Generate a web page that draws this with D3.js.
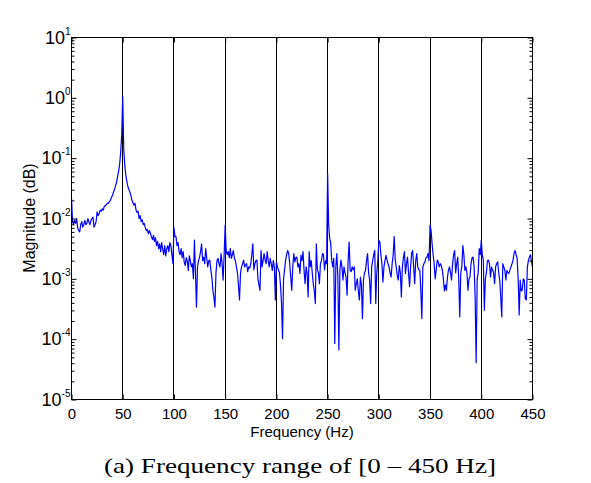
<!DOCTYPE html>
<html><head><meta charset="utf-8">
<script src="https://cdn.jsdelivr.net/npm/d3@7"></script>
<style>body{margin:0;background:#fff}svg{display:block}</style>
</head><body>
<svg id="c" width="591" height="483"></svg>
<script>
// ---- data ----
const xDomain = [0, 450];
const yDomain = [1e-5, 10];
const xTickValues = [0, 50, 100, 150, 200, 250, 300, 350, 400, 450];
const gridFreqs = [50, 100, 150, 200, 250, 300, 350, 400];
const yTickExponents = [-5, -4, -3, -2, -1, 0, 1];
const freqStepHz = 1;
const magnitude = [
2.2e-2,8.9e-3,7.9e-3,9.3e-3,8.3e-3,1.0e-2,7.1e-3,6.3e-3,6.0e-3,7.9e-3,
8.9e-3,7.2e-3,7.9e-3,9.3e-3,7.9e-3,8.3e-3,1.0e-2,8.7e-3,7.9e-3,9.3e-3,
1.0e-2,1.05e-2,7.2e-3,7.9e-3,8.9e-3,1.29e-2,1.12e-2,1.20e-2,1.38e-2,1.32e-2,
1.45e-2,1.38e-2,1.58e-2,1.62e-2,1.70e-2,1.78e-2,1.78e-2,1.91e-2,2.0e-2,2.24e-2,
2.40e-2,2.75e-2,3.02e-2,3.47e-2,3.98e-2,5.01e-2,6.03e-2,7.94e-2,0.126,0.240,
1.05,0.141,7.59e-2,5.25e-2,4.17e-2,3.39e-2,3.02e-2,2.75e-2,2.40e-2,2.0e-2,
1.82e-2,1.66e-2,1.78e-2,1.38e-2,1.26e-2,1.32e-2,1.0e-2,1.12e-2,8.9e-3,9.55e-3,
7.9e-3,8.3e-3,7.1e-3,6.3e-3,6.6e-3,5.6e-3,6.3e-3,5.75e-3,5.0e-3,4.47e-3,
5.25e-3,4.17e-3,4.79e-3,3.55e-3,4.17e-3,3.16e-3,3.80e-3,2.82e-3,3.98e-3,3.16e-3,
2.51e-3,3.55e-3,2.40e-3,3.16e-3,3.55e-3,2.82e-3,3.98e-3,3.55e-3,2.51e-3,1.78e-3,
7.08e-3,5.0e-3,5.0e-3,3.55e-3,3.98e-3,2.82e-3,2.51e-3,3.16e-3,2.24e-3,2.82e-3,
1.91e-3,1.66e-3,2.24e-3,2.0e-3,1.38e-3,2.40e-3,2.0e-3,1.58e-3,1.78e-3,1.0e-3,
4.37e-3,1.26e-3,3.39e-4,1.58e-3,2.0e-3,2.29e-3,2.82e-3,3.80e-3,2.0e-3,2.29e-3,
1.78e-3,3.16e-3,2.24e-3,1.58e-3,2.0e-3,2.04e-3,1.41e-3,1.07e-3,6.46e-4,5.01e-4,
3.39e-4,1.23e-3,2.0e-3,2.19e-3,1.78e-3,1.58e-3,2.63e-3,1.78e-3,9.55e-4,2.51e-3,
7.76e-3,2.95e-3,2.51e-3,2.82e-3,2.24e-3,3.16e-3,2.19e-3,2.51e-3,2.95e-3,2.19e-3,
2.0e-3,1.58e-3,1.26e-3,7.76e-4,4.47e-4,1.26e-3,1.58e-3,1.78e-3,2.04e-3,1.58e-3,
1.70e-3,1.78e-3,1.32e-3,1.58e-3,1.51e-3,1.78e-3,2.51e-3,3.80e-3,1.41e-3,1.78e-3,
2.0e-3,2.04e-3,1.0e-3,7.94e-4,6.46e-4,2.95e-3,1.58e-3,2.0e-3,2.63e-3,2.04e-3,
1.78e-3,2.82e-3,2.0e-3,1.58e-3,2.19e-3,1.78e-3,1.38e-3,2.0e-3,1.58e-3,4.47e-4,
1.91e-3,1.58e-3,1.41e-3,1.26e-3,7.94e-4,3.98e-4,1.02e-4,1.0e-3,1.41e-3,2.04e-3,
2.51e-3,2.95e-3,2.63e-3,1.78e-3,1.07e-3,6.46e-4,1.58e-3,2.63e-3,1.91e-3,2.24e-3,
2.29e-3,1.58e-3,1.78e-3,1.23e-3,2.45e-3,2.0e-3,2.82e-3,1.38e-3,8.32e-4,1.58e-3,
1.26e-3,5.01e-4,2.82e-3,1.58e-3,2.0e-3,1.26e-3,8.32e-4,6.31e-4,3.89e-4,3.80e-3,
1.41e-3,1.26e-3,8.32e-4,1.78e-3,2.0e-3,2.63e-3,2.51e-3,1.41e-3,2.0e-3,1.78e-3,
5.62e-2,7.94e-3,4.68e-3,3.98e-3,2.04e-3,1.58e-3,2.19e-3,8.5e-5,1.58e-3,2.63e-3,
1.07e-3,6.61e-5,1.38e-3,2.04e-3,1.58e-3,9.55e-4,1.58e-3,1.26e-3,1.07e-3,5.37e-4,
2.0e-3,4.07e-3,1.38e-3,1.32e-3,1.58e-3,1.41e-3,1.58e-3,6.46e-4,8.32e-4,1.0e-3,
6.31e-4,4.47e-4,1.07e-3,7.94e-4,2.19e-4,9.55e-4,1.26e-3,1.38e-3,2.0e-3,2.63e-3,
1.26e-3,9.55e-4,3.89e-4,1.58e-3,2.0e-3,2.51e-3,2.95e-3,3.89e-4,1.26e-3,2.0e-3,
4.37e-3,4.07e-3,2.51e-3,1.78e-3,8.91e-4,1.58e-3,2.0e-3,2.45e-3,2.04e-3,1.78e-3,
1.58e-3,1.26e-3,1.07e-3,1.78e-3,2.51e-3,5.01e-3,2.04e-3,1.58e-3,1.12e-3,9.55e-4,
1.66e-3,1.26e-3,5.01e-4,1.58e-3,2.24e-3,2.82e-3,1.23e-3,1.78e-3,2.29e-3,1.26e-3,
7.41e-4,1.58e-3,2.63e-3,2.95e-3,1.58e-3,8.32e-4,2.0e-3,2.63e-3,1.58e-3,1.41e-3,
1.38e-3,6.31e-4,2.19e-4,1.58e-3,1.78e-3,1.91e-3,2.24e-3,2.29e-3,2.63e-3,2.0e-3,
7.76e-3,6.31e-3,3.80e-3,2.51e-3,1.78e-3,1.0e-3,1.41e-3,2.04e-3,1.91e-3,1.58e-3,
1.78e-3,1.66e-3,1.38e-3,1.0e-3,6.31e-4,7.94e-4,6.46e-4,1.07e-3,1.41e-3,1.58e-3,
1.26e-3,9.55e-4,1.78e-3,2.51e-3,2.95e-3,1.26e-3,1.78e-3,2.29e-3,1.0e-3,2.34e-4,
1.26e-3,1.58e-3,3.55e-3,2.51e-3,1.38e-3,1.58e-3,1.26e-3,6.46e-4,1.0e-3,1.07e-3,
1.78e-3,2.24e-3,2.29e-3,1.58e-3,5.01e-4,4.07e-5,1.0e-3,1.26e-3,3.16e-3,2.51e-3,
4.37e-3,2.51e-3,2.04e-3,3.02e-4,1.0e-3,1.26e-3,2.0e-3,2.04e-3,1.78e-3,1.07e-3,
1.58e-3,1.41e-3,1.26e-3,8.32e-4,1.58e-3,1.78e-3,1.91e-3,1.26e-3,9.55e-4,5.01e-4,
2.34e-4,1.78e-3,1.58e-3,1.38e-3,9.55e-4,1.38e-3,1.26e-3,1.23e-3,1.41e-3,1.58e-3,
1.78e-3,2.04e-3,2.63e-3,2.95e-3,2.51e-3,2.19e-3,1.0e-3,2.51e-4,9.55e-4,6.31e-4,
6.46e-4,1.0e-3,9.55e-4,4.68e-4,4.47e-4,1.58e-3,2.0e-3,2.29e-3,2.51e-3,1.91e-3,
1.58e-3
];
const xLabel = "Frequency (Hz)";
const yLabel = "Magnitude (dB)";
const caption = "(a) Frequency range of [0 \u2013 450 Hz]";

// ---- drawing ----
const L = 71.5, R = 532.5, T = 37.5, B = 399.5;
const svg = d3.select('#c');
const x = d3.scaleLinear().domain(xDomain).range([L, R]);
const y = d3.scaleLog().domain(yDomain).range([B, T]);
const px = v => Math.round(x(v) - 0.5) + 0.5;
const sans = "Arial, 'Liberation Sans', Helvetica, sans-serif";

const series = magnitude.map((m, i) => ({f: i * freqStepHz, m}));

// grid lines
svg.append('g').selectAll('line').data(gridFreqs).join('line')
  .attr('x1', px).attr('x2', px).attr('y1', T).attr('y2', B)
  .attr('stroke', '#000').attr('stroke-width', 1);

// data line
svg.append('path').datum(series)
  .attr('fill', 'none').attr('stroke', '#0000ff').attr('stroke-width', 1.2)
  .attr('stroke-linejoin', 'round')
  .attr('d', d3.line().x(d => x(d.f)).y(d => y(d.m)));

// axes
const majorY = yTickExponents.map(e => Math.pow(10, e));
const minorY = y.ticks().filter(v => !majorY.some(mv => Math.abs(mv - v) / mv < 1e-9));

function styleAxis(g) {
  g.select('.domain').remove();
  g.selectAll('line').attr('stroke', '#000');
}
svg.append('g').attr('transform', `translate(0,${B})`)
  .call(d3.axisBottom(x).tickValues(xTickValues).tickSizeInner(-5).tickSizeOuter(0).tickPadding(9))
  .call(styleAxis)
  .call(g => g.selectAll('text').attr('font-family', sans).attr('font-size', 15).attr('fill', '#000'));
svg.append('g').attr('transform', `translate(0,${T})`)
  .call(d3.axisTop(x).tickValues(xTickValues).tickSizeInner(-5).tickSizeOuter(0).tickFormat(''))
  .call(styleAxis);
svg.append('g').attr('transform', `translate(${L},0)`)
  .call(d3.axisLeft(y).tickValues(majorY).tickSizeInner(-5).tickSizeOuter(0).tickFormat(''))
  .call(styleAxis);
svg.append('g').attr('transform', `translate(${L},0)`)
  .call(d3.axisLeft(y).tickValues(minorY).tickSizeInner(-3).tickSizeOuter(0).tickFormat(''))
  .call(styleAxis);
svg.append('g').attr('transform', `translate(${R},0)`)
  .call(d3.axisRight(y).tickValues(majorY).tickSizeInner(-5).tickSizeOuter(0).tickFormat(''))
  .call(styleAxis);
svg.append('g').attr('transform', `translate(${R},0)`)
  .call(d3.axisRight(y).tickValues(minorY).tickSizeInner(-3).tickSizeOuter(0).tickFormat(''))
  .call(styleAxis);

// y tick labels 10^e
const yl = svg.append('g').selectAll('text').data(yTickExponents).join('text')
  .attr('x', L - 1).attr('y', e => y(Math.pow(10, e)) + 6)
  .attr('text-anchor', 'end').attr('font-family', sans).attr('fill', '#000');
yl.append('tspan').attr('font-size', 18).text('10');
yl.append('tspan').attr('font-size', 10).attr('dy', -9).text(e => e < 0 ? '-' + (-e) : String(e));

// frame
svg.append('rect').attr('x', L).attr('y', T).attr('width', R - L).attr('height', B - T)
  .attr('fill', 'none').attr('stroke', '#000').attr('stroke-width', 1);

// labels
svg.append('text').attr('x', (L + R) / 2).attr('y', 437).attr('text-anchor', 'middle')
  .attr('font-family', sans).attr('font-size', 15).attr('fill', '#000').text(xLabel);
svg.append('text').attr('transform', `translate(35,218) rotate(-90)`).attr('text-anchor', 'middle')
  .attr('font-family', sans).attr('font-size', 16).attr('fill', '#000').text(yLabel);
svg.append('text').attr('x', 300).attr('y', 473).attr('text-anchor', 'middle')
  .attr('font-family', "'Times New Roman', 'Liberation Serif', serif").attr('font-size', 22)
  .attr('textLength', 392).attr('lengthAdjust', 'spacingAndGlyphs')
  .attr('fill', '#000').text(caption);
</script>
</body></html>
